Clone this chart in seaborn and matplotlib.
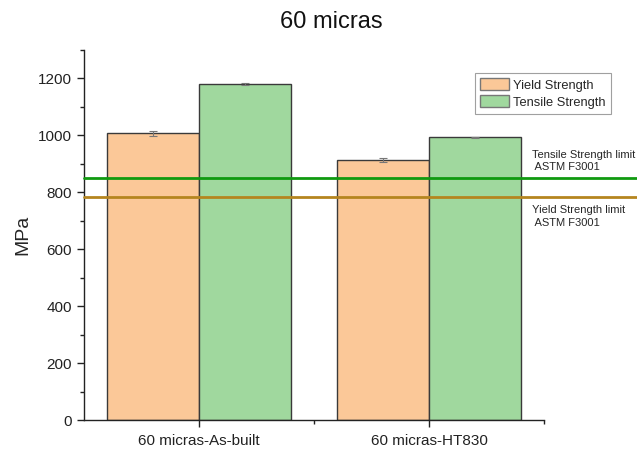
import matplotlib
matplotlib.use("Agg")
import matplotlib.pyplot as plt
import seaborn as sns
import pandas as pd
import numpy as np
from matplotlib.ticker import MultipleLocator, FixedLocator

# Mechanical test results (MPa)
conditions = ["60 micras-As-built", "60 micras-HT830"]
series = ["Yield Strength", "Tensile Strength"]
yield_strength = [1007, 913]
tensile_strength = [1181, 993]
yield_err = [8, 8]
tensile_err = [3, 3]

# ASTM F3001 minimum limits
tensile_limit = 850
yield_limit = 785

colors = ["#FBC898", "#A0D89E"]

df = pd.DataFrame({
    "condition": conditions * 2,
    "property": [series[0]] * 2 + [series[1]] * 2,
    "MPa": yield_strength + tensile_strength,
})
errs = {series[0]: yield_err, series[1]: tensile_err}

sns.set_style("white")
plt.rcParams["font.family"] = ["Liberation Sans", "DejaVu Sans"]

fig = plt.figure(figsize=(6.37, 4.5), dpi=100)
ax = fig.add_axes([84 / 637, 1 - 420 / 450, 460 / 637, 370 / 450])

sns.barplot(data=df, x="condition", y="MPa", hue="property", order=conditions,
            hue_order=series, palette=colors, errorbar=None, width=0.8,
            edgecolor="#3a3a3a", linewidth=1.0, saturation=1, ax=ax)

for container, name in zip(ax.containers, series):
    xs = [p.get_x() + p.get_width() / 2 for p in container.patches]
    hs = [p.get_height() for p in container.patches]
    ax.errorbar(xs, hs, yerr=errs[name], fmt="none", ecolor="#777777",
                elinewidth=0.8, capsize=3, capthick=0.8, zorder=3)

ax.set_xlim(-0.5, 1.5)
ax.set_ylim(0, 1300)
ax.yaxis.set_major_locator(FixedLocator(np.arange(0, 1201, 200)))
ax.yaxis.set_minor_locator(MultipleLocator(100))
ax.xaxis.set_minor_locator(FixedLocator([0.5, 1.5]))

for s in ["top", "right"]:
    ax.spines[s].set_visible(False)
for s in ["left", "bottom"]:
    ax.spines[s].set_color("#222222")
    ax.spines[s].set_linewidth(1.0)

ax.tick_params(axis="both", which="major", direction="out", length=5, width=1,
               color="#222222", labelsize=11, labelcolor="#222222", left=True, bottom=True)
ax.tick_params(axis="both", which="minor", direction="out", length=3, width=1,
               color="#222222", left=True, bottom=True)
ax.tick_params(axis="x", pad=5)
ax.set_xlabel("")
ax.set_ylabel("MPa", fontsize=14, labelpad=5)

# limit lines run across to the right margin
ax.axhline(tensile_limit, xmin=0, xmax=(637 - 84) / 460, color="#109A10",
           linewidth=2, clip_on=False, zorder=4)
ax.axhline(yield_limit, xmin=0, xmax=(637 - 84) / 460, color="#B5851F",
           linewidth=2, clip_on=False, zorder=4)

ax.text(1.448, tensile_limit + 20, "Tensile Strength limit\n ASTM F3001",
        fontsize=8, va="bottom", ha="left", linespacing=1.35, clip_on=False)
ax.text(1.448, yield_limit - 30, "Yield Strength limit\n ASTM F3001",
        fontsize=8, va="top", ha="left", linespacing=1.35, clip_on=False)

leg = ax.legend(loc="upper left", bbox_to_anchor=(475 / 637, 1 - 73 / 450),
                bbox_transform=fig.transFigure, frameon=True, fancybox=False,
                fontsize=9.3, handlelength=2.25, handleheight=1.05, handletextpad=0.3,
                borderpad=0.4, labelspacing=0.3, borderaxespad=0)
leg.get_frame().set_edgecolor("#888888")
leg.get_frame().set_linewidth(0.8)
for h in leg.legend_handles:
    h.set_edgecolor("#777777")

fig.text(331 / 637, 1 - 22 / 450, "60 micras", fontsize=17, ha="center", va="center",
         color="#111111")

fig.savefig("out.png", dpi=100)
